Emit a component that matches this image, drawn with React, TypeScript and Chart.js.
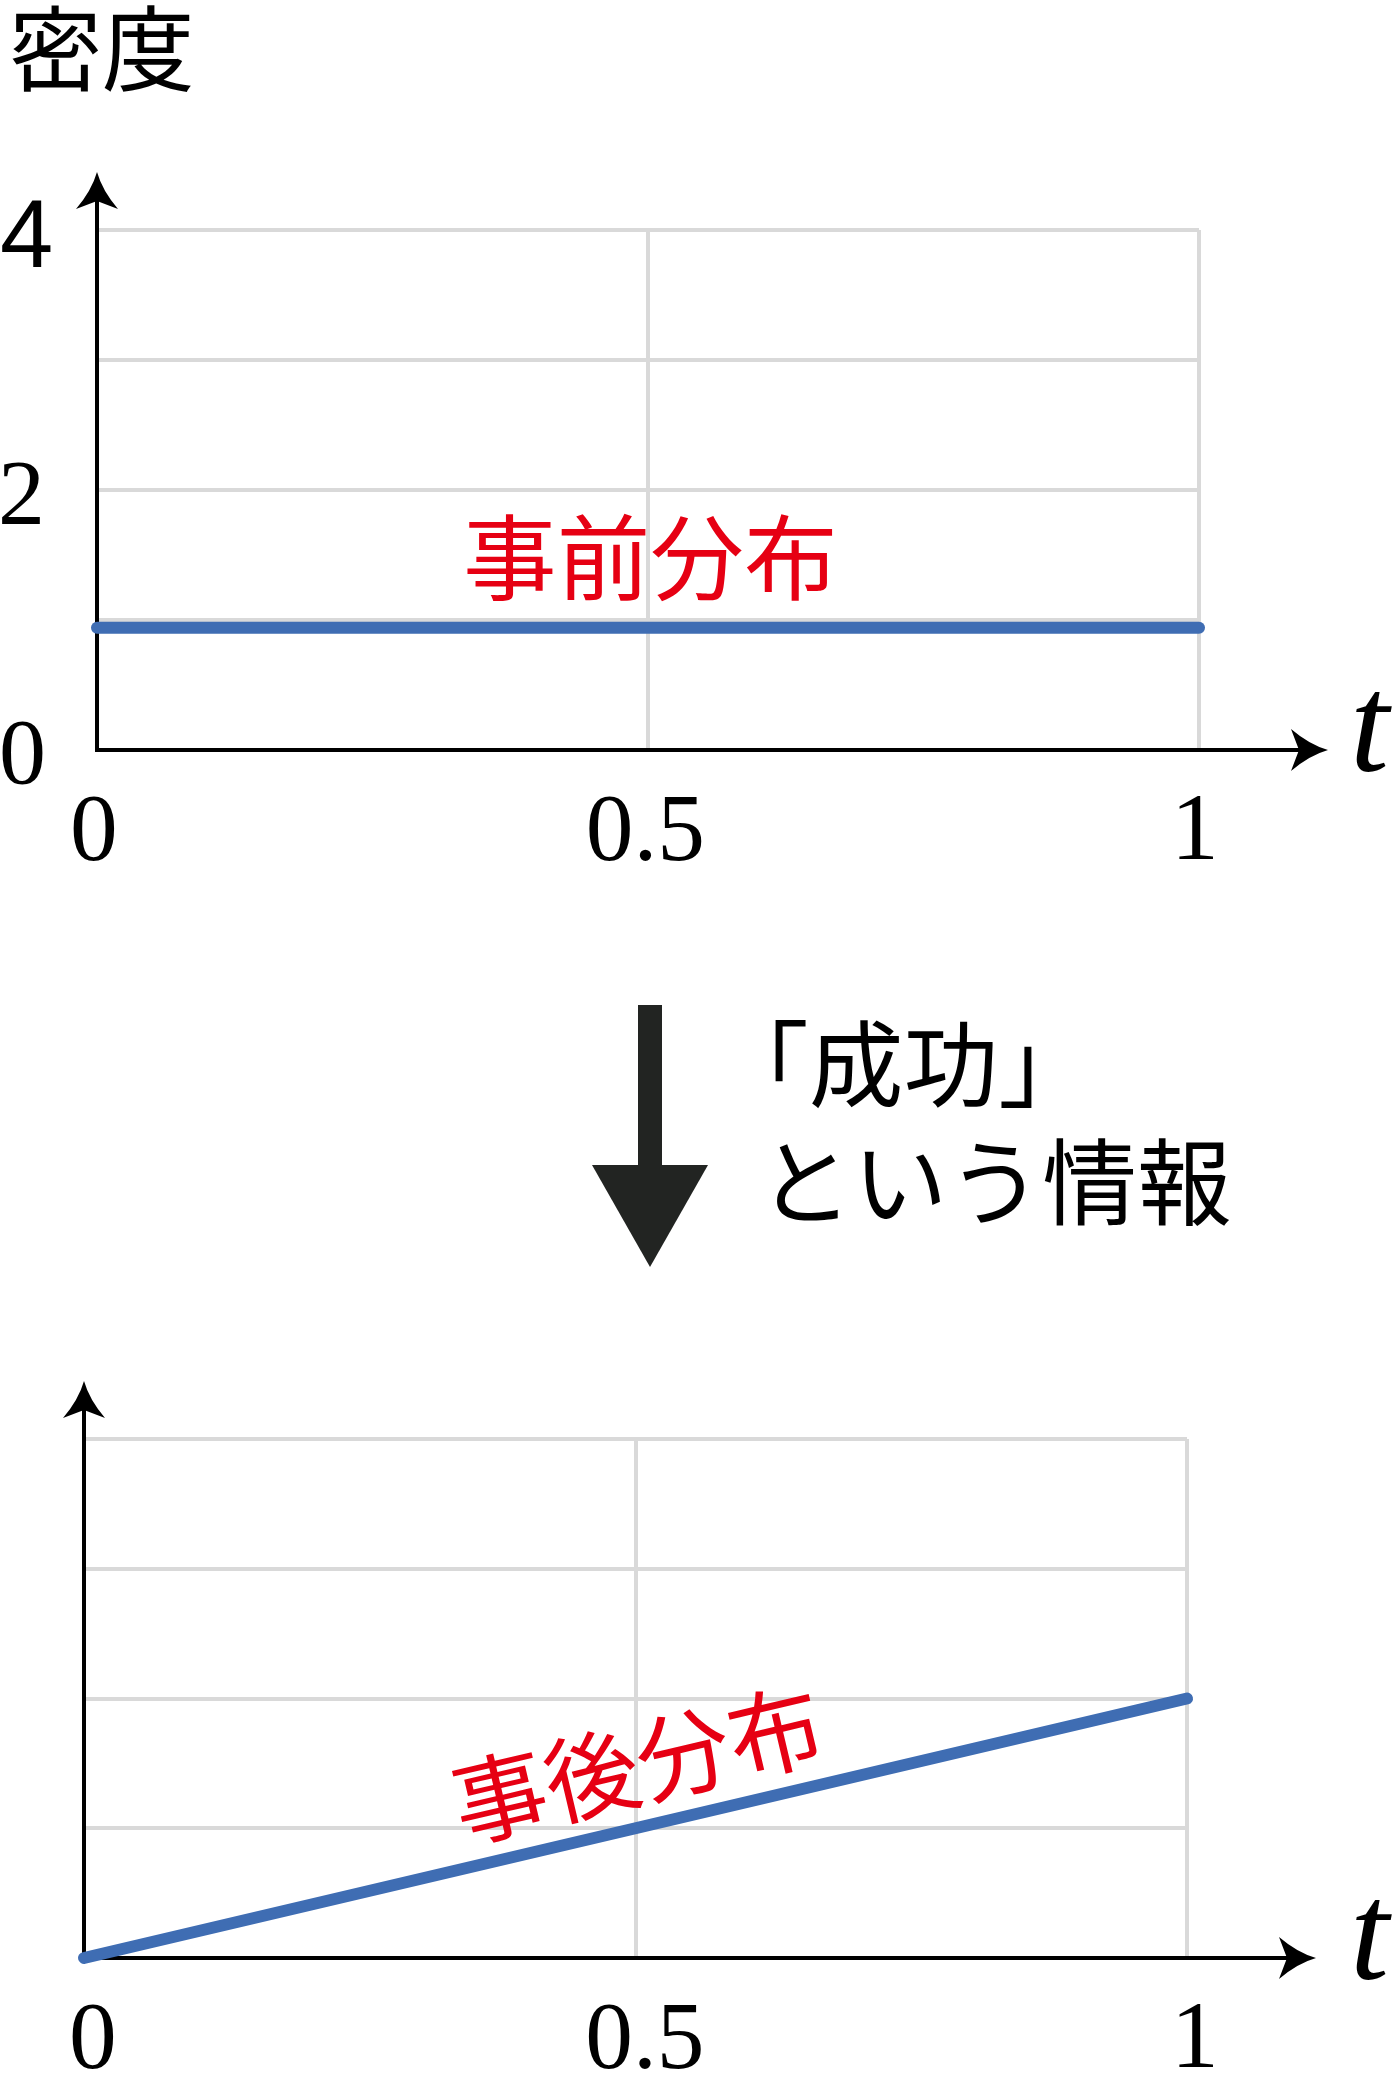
import React, { useEffect, useRef } from "react";
import { Chart, registerables } from "chart.js";

Chart.register(...registerables);

// ---- data ----
const tValues = [0, 1];
const priorDensity = [0.94, 0.94];
const posteriorDensity = [0, 2];
const xTickValues = [0, 0.5, 1];
const xTickLabels = ["0", "0.5", "1"];
const yTickValues = [0, 2, 4];
const yTickLabels = ["0", "2", "4"];
const yAxisTitle = "密度";
const priorLabel = "事前分布";
const posteriorLabel = "事後分布";
const infoLines = ["「成功」", "という情報"];
const axisVar = "t";

// ---- styles ----
const BLUE = "#3f6db3";
const RED = "#e60013";
const GRID = "#d9d9d9";
const DARK = "#222422";
const SERIF = '"Liberation Serif", "DejaVu Serif", serif';
const SANS = '"Liberation Sans", "DejaVu Sans", sans-serif';
const CJK = '"Noto Sans CJK JP", "Noto Sans", sans-serif';

type Ctx = CanvasRenderingContext2D;

function inkMeasure(ctx: Ctx, text: string, font: string) {
  ctx.font = font;
  const m = ctx.measureText(text);
  return {
    m,
    w: m.actualBoundingBoxLeft + m.actualBoundingBoxRight,
    h: m.actualBoundingBoxAscent + m.actualBoundingBoxDescent,
  };
}

// draw text so that its ink box's top-left corner is at (left, top)
function inkText(ctx: Ctx, text: string, font: string, left: number, top: number) {
  ctx.font = font;
  ctx.textAlign = "left";
  ctx.textBaseline = "alphabetic";
  const m = ctx.measureText(text);
  ctx.fillText(text, left + m.actualBoundingBoxLeft, top + m.actualBoundingBoxAscent);
}

function sizeForWidth(ctx: Ctx, text: string, fontFn: (s: number) => string, w: number) {
  return (100 * w) / inkMeasure(ctx, text, fontFn(100)).w;
}
function sizeForHeight(ctx: Ctx, text: string, fontFn: (s: number) => string, h: number) {
  return (100 * h) / inkMeasure(ctx, text, fontFn(100)).h;
}

function arrowHead(ctx: Ctx, tx: number, ty: number, dx: number, dy: number, len = 37, half = 21, notch = 8) {
  const px = -dy, py = dx;
  const bx = tx - dx * len, by = ty - dy * len;
  const lx = bx + px * half, ly = by + py * half;
  const rx = bx - px * half, ry = by - py * half;
  const nx = bx + dx * notch, ny = by + dy * notch;
  const c1x = tx - dx * len * 0.5 + px * half * 0.25, c1y = ty - dy * len * 0.5 + py * half * 0.25;
  const c2x = tx - dx * len * 0.5 - px * half * 0.25, c2y = ty - dy * len * 0.5 - py * half * 0.25;
  ctx.beginPath();
  ctx.moveTo(tx, ty);
  ctx.quadraticCurveTo(c1x, c1y, lx, ly);
  ctx.lineTo(nx, ny);
  ctx.lineTo(rx, ry);
  ctx.quadraticCurveTo(c2x, c2y, tx, ty);
  ctx.closePath();
  ctx.fill();
}

function drawAxes(chart: any) {
  const { ctx, chartArea: a, scales } = chart;
  const x0 = scales.x.getPixelForValue(0);
  const y0 = scales.y.getPixelForValue(0);
  const yTip = a.top - 58;
  const xTip = a.right + 129;
  ctx.save();
  ctx.strokeStyle = "#000";
  ctx.fillStyle = "#000";
  ctx.lineWidth = 4;
  ctx.beginPath();
  ctx.moveTo(x0, y0 + 2);
  ctx.lineTo(x0, yTip + 20);
  ctx.moveTo(x0 - 2, y0);
  ctx.lineTo(xTip - 20, y0);
  ctx.stroke();
  arrowHead(ctx, x0, yTip, 0, -1);
  arrowHead(ctx, xTip, y0, 1, 0);
  // axis variable t
  const tFont = (s: number) => `italic ${s}px ${SERIF}`;
  const ts = sizeForHeight(ctx, axisVar, tFont, 80);
  inkText(ctx, axisVar, tFont(ts), 1356, y0 - 58);
  ctx.restore();
}

function drawXTicks(chart: any, dx: number) {
  const { ctx, scales } = chart;
  const y0 = scales.y.getPixelForValue(0);
  const f = (s: number) => `${s}px ${SERIF}`;
  const size = sizeForHeight(ctx, "1", f, 63);
  ctx.save();
  ctx.fillStyle = "#000";
  xTickValues.forEach((v, i) => {
    const px = scales.x.getPixelForValue(v) + dx;
    const { w } = inkMeasure(ctx, xTickLabels[i], f(size));
    inkText(ctx, xTickLabels[i], f(size), px - w / 2, y0 + 46);
  });
  ctx.restore();
}

const topDecor = {
  id: "topDecor",
  beforeDatasetsDraw(chart: any) {
    drawAxes(chart);
  },
  afterDraw(chart: any) {
    const { ctx, scales } = chart;
    ctx.save();
    ctx.fillStyle = "#000";
    // y tick labels
    const serif = (s: number) => `${s}px ${SERIF}`;
    const sans = (s: number) => `${s}px ${SANS}`;
    const serifSize = sizeForHeight(ctx, "2", serif, 63);
    const sansSize = sizeForHeight(ctx, "4", sans, 67);
    yTickValues.forEach((v, i) => {
      const py = scales.y.getPixelForValue(v);
      const font = v === 4 ? sans(sansSize) : serif(serifSize);
      const { h } = inkMeasure(ctx, yTickLabels[i], font);
      inkText(ctx, yTickLabels[i], font, 2, py + 3 - h / 2);
    });
    drawXTicks(chart, -3);
    // y axis title
    const cjk = (s: number) => `${s}px ${CJK}`;
    const ts = sizeForWidth(ctx, yAxisTitle, cjk, 180);
    inkText(ctx, yAxisTitle, cjk(ts), 12, 5);
    // prior label
    ctx.fillStyle = RED;
    const ps = sizeForWidth(ctx, priorLabel, cjk, 366);
    const pm = inkMeasure(ctx, priorLabel, cjk(ps));
    const cx = scales.x.getPixelForValue(0.5) + 2;
    const lineY = scales.y.getPixelForValue(priorDensity[0]);
    inkText(ctx, priorLabel, cjk(ps), cx - pm.w / 2, lineY - 26 - pm.h);
    ctx.restore();
  },
};

const bottomDecor = {
  id: "bottomDecor",
  beforeDatasetsDraw(chart: any) {
    drawAxes(chart);
  },
  afterDraw(chart: any) {
    const { ctx, scales } = chart;
    ctx.save();
    drawXTicks(chart, 9);
    const cjk = (s: number) => `${s}px ${CJK}`;
    // posterior label, rotated along the line
    const p0x = scales.x.getPixelForValue(tValues[0]);
    const p0y = scales.y.getPixelForValue(posteriorDensity[0]);
    const p1x = scales.x.getPixelForValue(tValues[1]);
    const p1y = scales.y.getPixelForValue(posteriorDensity[1]);
    const ang = Math.atan2(p1y - p0y, p1x - p0x);
    const midX = (p0x + p1x) / 2 + 1;
    const midY = (p0y + p1y) / 2;
    const ps = sizeForWidth(ctx, posteriorLabel, cjk, 368);
    const pm = inkMeasure(ctx, posteriorLabel, cjk(ps));
    ctx.translate(midX, midY);
    ctx.rotate(ang);
    ctx.fillStyle = RED;
    inkText(ctx, posteriorLabel, cjk(ps), -pm.w / 2 + 15, -62 - pm.h / 2);
    ctx.restore();

    // middle arrow & text (above the chart area)
    ctx.save();
    ctx.fillStyle = DARK;
    const ax = 650;
    ctx.fillRect(ax - 12, 5, 24, 162);
    ctx.beginPath();
    ctx.moveTo(ax - 58, 165);
    ctx.lineTo(ax + 58, 165);
    ctx.lineTo(ax, 267);
    ctx.closePath();
    ctx.fill();
    ctx.fillStyle = "#000";
    const ls = sizeForWidth(ctx, infoLines[1], cjk, 453);
    inkText(ctx, infoLines[0], cjk(ls), 775, 20);
    inkText(ctx, infoLines[1], cjk(ls), 777, 138);
    ctx.restore();
  },
};

function makeConfig(values: number[], padding: any, plugin: any) {
  return {
    type: "line" as const,
    data: {
      datasets: [
        {
          data: tValues.map((t, i) => ({ x: t, y: values[i] })),
          borderColor: BLUE,
          borderWidth: 12,
          borderCapStyle: "round" as const,
          pointRadius: 0,
          tension: 0,
          clip: false as any,
        },
      ],
    },
    options: {
      responsive: false,
      animation: false as const,
      events: [] as any,
      layout: { padding, autoPadding: false },
      plugins: { legend: { display: false }, tooltip: { enabled: false } },
      scales: {
        x: {
          type: "linear" as const,
          min: 0,
          max: 1,
          afterBuildTicks: (s: any) => {
            s.ticks = xTickValues.map((v) => ({ value: v }));
          },
          ticks: { display: false },
          grid: { color: GRID, lineWidth: 4, drawTicks: false },
          border: { display: false },
        },
        y: {
          type: "linear" as const,
          min: 0,
          max: 4,
          ticks: { display: false, stepSize: 1 },
          grid: { color: GRID, lineWidth: 4, drawTicks: false },
          border: { display: false },
        },
      },
    },
    plugins: [plugin],
  };
}

export default function App() {
  const topRef = useRef<HTMLCanvasElement>(null);
  const botRef = useRef<HTMLCanvasElement>(null);

  useEffect(() => {
    let c1: Chart | null = null;
    let c2: Chart | null = null;
    let cancelled = false;
    const fontsToLoad = [
      `40px ${CJK}`,
      `40px ${SERIF}`,
      `italic 40px ${SERIF}`,
      `40px ${SANS}`,
    ];
    Promise.all(fontsToLoad.map((f) => document.fonts.load(f, "密度事前後分布成功という情報0.5124t").catch(() => null)))
      .catch(() => null)
      .then(() => {
        if (cancelled || !topRef.current || !botRef.current) return;
        c1 = new Chart(
          topRef.current,
          makeConfig(priorDensity, { left: 97, right: 201, top: 230, bottom: 250 }, topDecor) as any
        );
        c2 = new Chart(
          botRef.current,
          makeConfig(posteriorDensity, { left: 84, right: 213, top: 439, bottom: 142 }, bottomDecor) as any
        );
      });
    return () => {
      cancelled = true;
      c1?.destroy();
      c2?.destroy();
    };
  }, []);

  return (
    <div style={{ position: "absolute", left: 0, top: 0, width: 1400, height: 2100, background: "#fff" }}>
      <canvas ref={topRef} width={1400} height={1000} style={{ position: "absolute", left: 0, top: 0, width: 1400, height: 1000 }} />
      <canvas ref={botRef} width={1400} height={1100} style={{ position: "absolute", left: 0, top: 1000, width: 1400, height: 1100 }} />
    </div>
  );
}
